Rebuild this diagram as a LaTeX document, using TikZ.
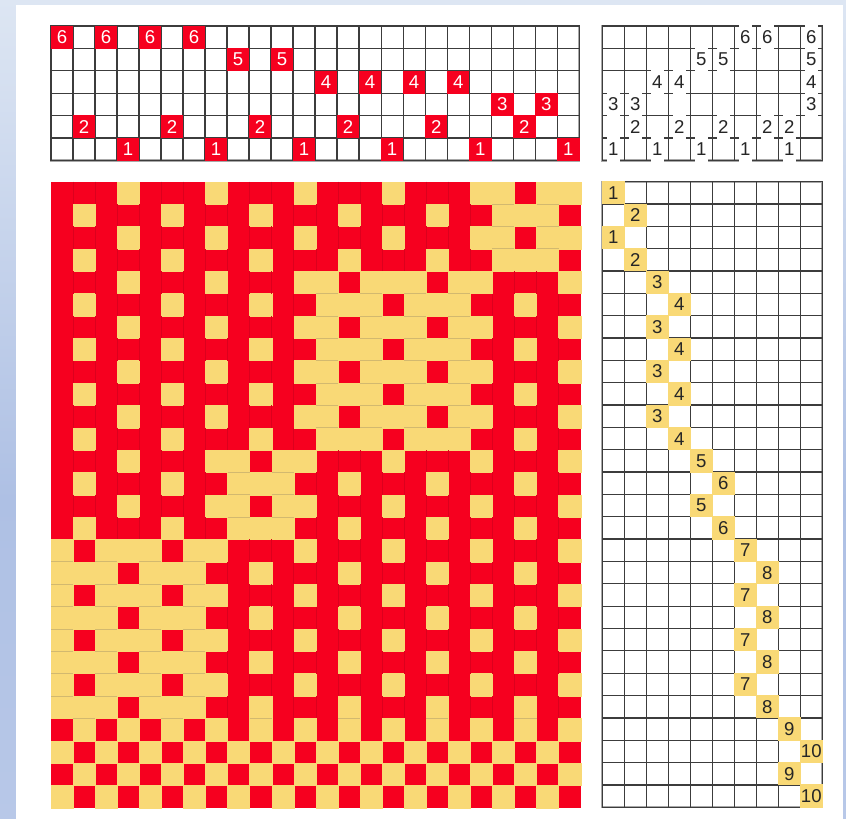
\documentclass[tikz,border=0pt]{standalone}
\usepackage{fontspec}
\setmainfont{Liberation Sans}
\definecolor{wred}{HTML}{F6001F}
\definecolor{wredd}{HTML}{DC001D}
\definecolor{wyel}{HTML}{F9D976}
\definecolor{wyeld}{HTML}{D2B96F}
\definecolor{gridc}{HTML}{3C3C3C}
\definecolor{gridb}{HTML}{A8A8A8}
\definecolor{digitc}{HTML}{262626}
\def\rowmask{{5,6,5,6,9,10,9,10,9,10,9,10,17,18,17,18,33,34,33,34,33,34,33,34,3,60,3,60,0}}
\def\colbit{{32,2,32,1,32,2,32,1,16,2,16,1,8,2,8,1,8,2,8,1,4,2,4,1,64}}
\tikzset{
  digit/.style={inner sep=0pt,outer sep=0pt,font=\fontsize{18.6}{18.6}\selectfont},
  redcell/.style={digit,fill=wred,text=white,minimum width=22.6pt,minimum height=22.9pt},
  whitecell/.style={digit,fill=white,text=digitc,minimum width=13.5pt,minimum height=24.5pt},
  yelcell/.style={digit,fill=wyel,text=digitc,minimum width=22.8pt,minimum height=23.2pt},
  gridline/.style={draw=gridc,line width=1.3pt,line cap=rect},
  gridedge/.style={draw=gridb,line width=2.2pt},
}
\newcommand{\cellgrid}[2]{%
  \draw[gridedge] (0,0) rectangle (#1,#2);
  \foreach \i in {0,...,#1} \draw[gridline] (\i,0) -- (\i,#2);
  \foreach \j in {0,...,#2} \draw[gridline] (0,\j) -- (#1,\j);
}
\begin{document}
\begin{tikzpicture}[x=1pt,y=-1pt]
\useasboundingbox (0,0) rectangle (846,819);
% backdrop
\shade[top color={rgb,255:red,221;green,230;blue,243},bottom color={rgb,255:red,174;green,192;blue,228}] (0,0) rectangle (846,500);
\shade[top color={rgb,255:red,174;green,192;blue,228},bottom color={rgb,255:red,184;green,200;blue,232}] (0,500) rectangle (846,819);
\fill[white] (16,5) rectangle (843,819);
% threading
\begin{scope}[shift={(51,26)},x=22.01pt,y=-22.42pt]
  \cellgrid{24}{6}
  \foreach \c/\s in {0/6,1/2,2/6,3/1,4/6,5/2,6/6,7/1,8/5,9/2,10/5,11/1,12/4,13/2,14/4,15/1,16/4,17/2,18/4,19/1,20/3,21/2,22/3,23/1}
    \node[redcell] (th\c) at ({\c+.5},{6.5-\s}) {\s};
\end{scope}
% tie-up
\begin{scope}[shift={(602.3,26)},x=22pt,y=-22.42pt]
  \cellgrid{10}{6}
  \foreach \t/\s in {1/3,1/1,2/3,2/2,3/4,3/1,4/4,4/2,5/5,5/1,6/5,6/2,7/6,7/1,8/6,8/2,9/2,9/1,10/6,10/5,10/4,10/3}
    \node[whitecell] (tu\t-\s) at ({\t-.5},{6.5-\s}) {\s};
\end{scope}
% treadling
\begin{scope}[shift={(602.3,181.7)},x=22pt,y=-22.34pt]
  \cellgrid{10}{28}
  \foreach \r/\t in {0/1,1/2,2/1,3/2,4/3,5/4,6/3,7/4,8/3,9/4,10/3,11/4,12/5,13/6,14/5,15/6,16/7,17/8,18/7,19/8,20/7,21/8,22/7,23/8,24/9,25/10,26/9,27/10}
    \node[yelcell] (tr\r) at ({\t-.5},{\r+.5}) {\t};
\end{scope}
% cloth
\begin{scope}[shift={(51,181.7)},x=22.07pt,y=-22.36pt]
  \fill[wred] (0,0) rectangle (24,28);
  \foreach \r in {0,...,27}{
    \pgfmathtruncatemacro\m{\rowmask[\r]}
    \foreach \c in {0,...,23}{
      \pgfmathtruncatemacro\b{\colbit[\c]}
      \pgfmathtruncatemacro\isy{mod(floor(\m/\b),2)}
      \ifnum\isy=1
        \fill[wyel,draw=wyel,line width=.3pt] (\c,\r) rectangle ({\c+1},{\r+1});
      \fi
    }
  }
  \foreach \r in {0,...,27}{
    \pgfmathtruncatemacro\m{\rowmask[\r]}
    \pgfmathtruncatemacro\n{\rowmask[\r+1]}
    \foreach \c in {0,...,23}{
      \pgfmathtruncatemacro\b{\colbit[\c]}
      \pgfmathtruncatemacro\bb{\colbit[\c+1]}
      \pgfmathtruncatemacro\isy{mod(floor(\m/\b),2)}
      \pgfmathtruncatemacro\ise{mod(floor(\m/\bb),2)}
      \pgfmathtruncatemacro\iss{mod(floor(\n/\b),2)}
      \ifnum\isy=0 \ifnum\ise=0 \ifnum\c<23
        \draw[wredd,line width=.6pt] ({\c+1},\r) -- ({\c+1},{\r+1});
      \fi\fi\fi
      \ifnum\isy=1 \ifnum\iss=1
        \draw[wyeld,line width=.7pt] (\c,{\r+1}) -- ({\c+1},{\r+1});
      \fi\fi
    }
  }
\end{scope}
\end{tikzpicture}
\end{document}
